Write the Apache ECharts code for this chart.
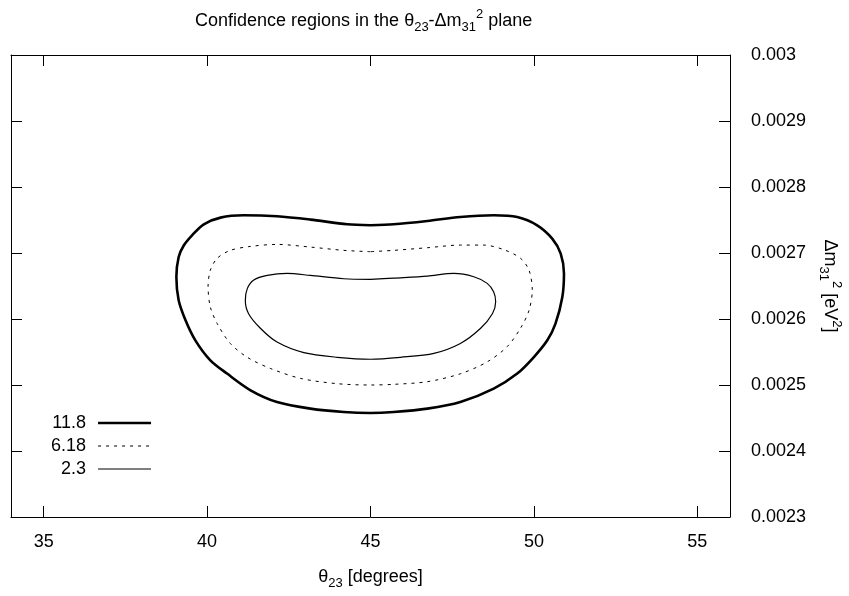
<!DOCTYPE html>
<html>
<head>
<meta charset="utf-8">
<script src="https://cdn.jsdelivr.net/npm/echarts@6/dist/echarts.min.js"></script>
<style>
  html, body { margin: 0; padding: 0; background: #fff; }
  #chart { width: 849px; height: 596px; }
</style>
</head>
<body>
<div id="chart"></div>
<script>
// chi^2 contour levels shown in the legend
var levels = ['11.8', '6.18', '2.3'];
var xTicks = [35, 40, 45, 50, 55];

// [theta23 (deg), dm31^2 (eV^2)] points traced round each closed contour
var contour118 = [
  [45.0, 0.002742], [44.29, 0.0027435], [43.16, 0.0027506], [42.14, 0.0027556],
  [41.12, 0.0027571], [40.41, 0.0027536], [39.90, 0.0027435], [39.54, 0.0027268],
  [39.29, 0.0027117], [39.13, 0.0026939], [39.06, 0.0026636], [39.13, 0.0026283],
  [39.34, 0.002598], [39.64, 0.0025677], [40.10, 0.0025374], [40.61, 0.0025173],
  [41.33, 0.002492], [42.14, 0.0024742], [43.16, 0.0024642], [44.18, 0.0024591],
  [45.0, 0.0024576], [45.71, 0.0024591], [46.74, 0.0024642], [47.75, 0.0024742],
  [48.77, 0.0024945], [49.49, 0.0025173], [50.0, 0.0025424], [50.41, 0.0025677],
  [50.66, 0.002593], [50.87, 0.0026333], [50.92, 0.0026688], [50.82, 0.0026991],
  [50.56, 0.0027218], [50.10, 0.002742], [49.49, 0.0027545], [48.77, 0.0027571],
  [47.75, 0.0027545], [46.74, 0.0027485], [45.71, 0.0027435], [45.0, 0.002742]
];
var contour618 = [
  [45.0, 0.002702], [44.18, 0.002704], [43.16, 0.002709], [42.14, 0.002713],
  [41.33, 0.00271], [40.71, 0.002704], [40.31, 0.002692], [40.10, 0.002674],
  [40.03, 0.002649], [40.10, 0.002618], [40.31, 0.002593], [40.71, 0.002563],
  [41.23, 0.002542], [41.94, 0.002525], [42.86, 0.00251], [43.98, 0.002502],
  [45.0, 0.0025], [45.71, 0.002501], [46.74, 0.002505], [47.75, 0.002517],
  [48.57, 0.002535], [49.18, 0.002558], [49.59, 0.002586], [49.85, 0.002613],
  [49.95, 0.002644], [49.85, 0.002674], [49.59, 0.002692], [49.08, 0.002705],
  [48.47, 0.002712], [47.75, 0.002712], [46.74, 0.002708], [45.71, 0.002704],
  [45.0, 0.002702]
];
var contour23 = [
  [45.0, 0.00266], [44.18, 0.002661], [43.16, 0.002666], [42.45, 0.002669],
  [41.84, 0.002666], [41.43, 0.002659], [41.23, 0.002646], [41.17, 0.002628],
  [41.27, 0.002608], [41.63, 0.002586], [42.14, 0.002565], [42.96, 0.002549],
  [43.98, 0.002542], [45.0, 0.002539], [45.92, 0.002542], [46.94, 0.002548],
  [47.75, 0.002563], [48.37, 0.002586], [48.73, 0.002608], [48.83, 0.002626],
  [48.77, 0.002641], [48.57, 0.002654], [48.16, 0.002664], [47.55, 0.002669],
  [46.74, 0.002665], [45.71, 0.002662], [45.0, 0.00266]
];

var FONT = '"Liberation Sans", Arial, Helvetica, sans-serif';
var rich = {
  n: { fontFamily: FONT, fontSize: 18, fontWeight: 'normal', color: '#000', lineHeight: 26 },
  sub: { fontFamily: FONT, fontSize: 13, fontWeight: 'normal', color: '#000', lineHeight: 11, verticalAlign: 'bottom' },
  sup: { fontFamily: FONT, fontSize: 13, fontWeight: 'normal', color: '#000', lineHeight: 11, verticalAlign: 'top' }
};

var tickStyle = { show: true, inside: true, length: 11, lineStyle: { color: '#000', width: 1 } };
var lineStyleAx = { show: true, onZero: false, lineStyle: { color: '#000', width: 1 } };
var thick = { color: '#000', width: 2.6, type: 'solid' };
var dotted = { color: '#000', width: 1, type: [3, 5] };
var thin = { color: '#000', width: 1.2, type: 'solid' };

function contourSeries(name, data, lineStyle) {
  return {
    name: name,
    type: 'line',
    data: data,
    xAxisIndex: 0,
    yAxisIndex: 0,
    smooth: 0.3,
    symbol: 'none',
    lineStyle: lineStyle,
    itemStyle: { color: '#000' },
    silent: true
  };
}

var chart = echarts.init(document.getElementById('chart'), null, { renderer: 'canvas' });
chart.setOption({
  animation: false,
  backgroundColor: '#fff',
  title: {
    text: '{n|Confidence regions in the θ}{sub|23}{n|-Δm}{sub|31}{sup|2}{n| plane}',
    left: 190,
    top: 3,
    textStyle: { fontWeight: 'normal', rich: rich }
  },
  legend: {
    data: [
      { name: levels[0], lineStyle: thick },
      { name: levels[1], lineStyle: dotted },
      { name: levels[2], lineStyle: thin }
    ],
    orient: 'vertical',
    align: 'right',
    left: 51,
    top: 413,
    padding: 0,
    itemWidth: 53,
    itemHeight: 14,
    itemGap: 3,
    selectedMode: false,
    // only the line sample, no marker dot
    itemStyle: { color: 'rgba(0,0,0,0)', borderColor: 'rgba(0,0,0,0)', borderWidth: 0 },
    textStyle: { fontFamily: FONT, fontSize: 18, color: '#000', lineHeight: 20, padding: [0, 7, 0, 0] }
  },
  grid: { left: 11, right: 119, top: 55, bottom: 79, containLabel: false, outerBoundsMode: 'none' },
  xAxis: [{
    type: 'value',
    min: 34,
    max: 56,
    position: 'bottom',
    name: '{n|θ}{sub|23}{n| [degrees]}',
    nameLocation: 'middle',
    nameGap: 47,
    nameTextStyle: { rich: rich },
    axisLine: lineStyleAx,
    axisTick: Object.assign({ customValues: xTicks }, tickStyle),
    axisLabel: { customValues: xTicks, margin: 16, fontFamily: FONT, fontSize: 18, color: '#000' },
    splitLine: { show: false }
  }, {
    type: 'value',
    min: 34,
    max: 56,
    position: 'top',
    axisLine: lineStyleAx,
    axisTick: Object.assign({ customValues: xTicks }, tickStyle),
    axisLabel: { show: false },
    splitLine: { show: false }
  }],
  yAxis: [{
    type: 'value',
    min: 0.0023,
    max: 0.003,
    interval: 0.0001,
    position: 'right',
    name: '{n|Δm}{sub|31}{sup|2}{n| [eV}{sup|2}{n|]}',
    nameLocation: 'middle',
    nameRotate: -90,
    nameGap: 85,
    nameTextStyle: { rich: rich },
    axisLine: lineStyleAx,
    axisTick: tickStyle,
    axisLabel: { margin: 21, fontFamily: FONT, fontSize: 18, color: '#000' },
    splitLine: { show: false }
  }, {
    type: 'value',
    min: 0.0023,
    max: 0.003,
    interval: 0.0001,
    position: 'left',
    axisLine: lineStyleAx,
    axisTick: tickStyle,
    axisLabel: { show: false },
    splitLine: { show: false }
  }],
  series: [
    contourSeries(levels[0], contour118, thick),
    contourSeries(levels[1], contour618, dotted),
    contourSeries(levels[2], contour23, thin)
  ]
});
</script>
</body>
</html>
